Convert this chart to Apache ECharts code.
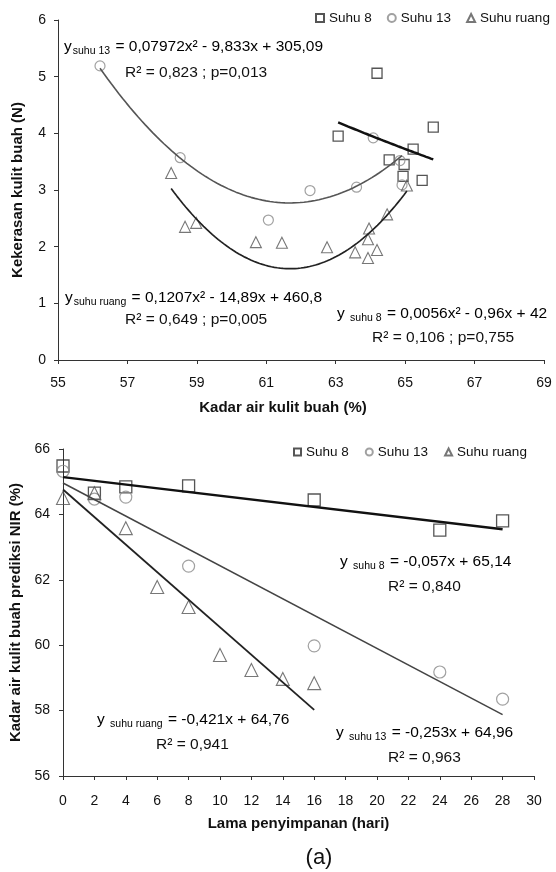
<!DOCTYPE html>
<html><head><meta charset="utf-8">
<script src="https://cdn.jsdelivr.net/npm/echarts@6/dist/echarts.min.js"></script>
<style>html,body{margin:0;padding:0;background:#fff}#c{width:556px;height:872px}</style>
</head><body><div id="c"></div>
<script>
const FONT = '"Liberation Sans", Arial, Helvetica, sans-serif';
const SERIES_NAMES = ['Suhu 8', 'Suhu 13', 'Suhu ruang'];

// ---------- Top chart: Kekerasan vs Kadar air ----------
const topXTicks = [55, 57, 59, 61, 63, 65, 67, 69];
const topYTicks = [0, 1, 2, 3, 4, 5, 6];
const topS8X = [63.07, 64.19, 65.81, 65.23, 64.54, 64.97, 64.94, 65.49];
const topS8Y = [3.95, 5.06, 4.11, 3.72, 3.53, 3.45, 3.24, 3.17];
const topS13X = [56.21, 58.52, 61.06, 62.26, 63.60, 64.08, 64.85, 64.91];
const topS13Y = [5.19, 3.57, 2.47, 2.99, 3.05, 3.92, 3.52, 3.09];
const topRX = [58.26, 58.66, 58.98, 60.70, 61.45, 62.75, 63.56, 63.93, 63.96, 64.19, 63.93, 64.48, 65.05];
const topRY = [3.30, 2.35, 2.42, 2.08, 2.07, 1.99, 1.90, 2.13, 2.32, 1.94, 1.80, 2.57, 3.08];
// printed quadratic terms (a, b); constant re-fitted to the data
const topS8Quad = [0.0056, -0.96];
const topS13Quad = [0.07972, -9.833];
const topRQuad = [0.1207, -14.89];

// ---------- Bottom chart: Kadar air vs Lama penyimpanan ----------
const botXTicks = [0, 2, 4, 6, 8, 10, 12, 14, 16, 18, 20, 22, 24, 26, 28, 30];
const botYTicks = [56, 58, 60, 62, 64, 66];
const botS8X = [0, 2, 4, 8, 16, 24, 28];
const botS8Y = [65.48, 64.65, 64.84, 64.87, 64.44, 63.52, 63.80];
const botS13X = [0, 2, 4, 8, 16, 24, 28];
const botS13Y = [65.32, 64.47, 64.53, 62.42, 59.98, 59.18, 58.35];
const botRX = [0, 2, 4, 6, 8, 10, 12, 14, 16];
const botRY = [64.50, 64.65, 63.58, 61.78, 61.17, 59.70, 59.24, 58.97, 58.84];
// printed linear trend lines (slope, intercept)
const botS8Lin = [-0.057, 65.14];
const botS13Lin = [-0.253, 64.96];
const botRLin = [-0.421, 64.76];

function zip(xs, ys) { return xs.map((x, i) => [x, ys[i]]); }
function quadCurve(xs, ys, q) {
  const [a, b] = q;
  let c = 0;
  xs.forEach((x, i) => { c += ys[i] - a * x * x - b * x; });
  c /= xs.length;
  const lo = Math.min(...xs), hi = Math.max(...xs);
  const pts = [];
  const n = 80;
  for (let k = 0; k <= n; k++) {
    const x = lo + (hi - lo) * k / n;
    pts.push([x, a * x * x + b * x + c]);
  }
  return pts;
}
function linLine(xs, l) {
  const lo = Math.min(...xs), hi = Math.max(...xs);
  return [[lo, l[0] * lo + l[1]], [hi, l[0] * hi + l[1]]];
}

const markerStyles = {
  'Suhu 8': { symbol: 'rect', color: '#2a2a2a', bw: 1.3 },
  'Suhu 13': { symbol: 'circle', color: '#8a8a8a', bw: 1.2 },
  'Suhu ruang': { symbol: 'triangle', color: '#555', bw: 1.1 }
};
function scatter(name, data, gi, size) {
  const m = markerStyles[name];
  return {
    type: 'scatter', name, data, xAxisIndex: gi, yAxisIndex: gi,
    symbol: m.symbol, symbolSize: size, z: 3,
    itemStyle: { color: 'rgba(255,255,255,0)', borderColor: m.color, borderWidth: m.bw },
    emphasis: { disabled: true }, silent: true
  };
}
function trend(name, data, gi, color, width) {
  return {
    type: 'line', name, data, xAxisIndex: gi, yAxisIndex: gi,
    showSymbol: false, smooth: false, z: 4, silent: true,
    lineStyle: { color, width }, emphasis: { disabled: true }
  };
}

const axisCommon = {
  axisLine: { show: true, lineStyle: { color: '#333', width: 1 } },
  axisTick: { show: true, length: 4, lineStyle: { color: '#333' } },
  splitLine: { show: false },
  nameLocation: 'middle',
  nameTextStyle: { fontFamily: FONT, fontSize: 15, fontWeight: 'bold', color: '#111' }
};
const labelStyle = { fontFamily: FONT, fontSize: 14, color: '#111' };

const eqRich = {
  y: { fontFamily: FONT, fontSize: 15.5, color: '#111' },
  s: { fontFamily: FONT, fontSize: 10.5, color: '#111', padding: [8, 1, 0, 1] },
  t: { fontFamily: FONT, fontSize: 15.5, color: '#111' }
};
function eq(x, y, sub, rest, gap) {
  return {
    type: 'text', x, y, silent: true, z: 10,
    style: {
      text: '{y|y' + (gap ? ' ' : '') + '}{s|' + sub + '}{t|' + rest + '}',
      rich: eqRich, align: 'left', verticalAlign: 'middle'
    }
  };
}
function plain(x, y, text, size, align) {
  return {
    type: 'text', x, y, silent: true, z: 10,
    style: { text, fontFamily: FONT, fontSize: size || 15.5, fill: '#111',
      align: align || 'left', verticalAlign: 'middle' }
  };
}

const option = {
  animation: false,
  backgroundColor: '#fff',
  grid: [
    { left: 58, right: 12, top: 20, height: 340 },
    { left: 63, right: 22, top: 449, height: 327 }
  ],
  legend: [
    { data: SERIES_NAMES, left: 310, top: 6, width: 300, itemWidth: 8, itemHeight: 8, itemGap: 15,
      textStyle: { fontFamily: FONT, fontSize: 13.5, color: '#111' }, selectedMode: false },
    { data: SERIES_NAMES, left: 288, top: 440, width: 300, itemWidth: 7, itemHeight: 7, itemGap: 16,
      textStyle: { fontFamily: FONT, fontSize: 13.5, color: '#111' }, selectedMode: false }
  ],
  xAxis: [
    Object.assign({}, axisCommon, {
      gridIndex: 0, type: 'value', min: topXTicks[0], max: topXTicks[topXTicks.length - 1],
      name: 'Kadar air kulit buah (%)', nameGap: 40,
      nameTextStyle: Object.assign({}, axisCommon.nameTextStyle, { padding: [0, 36, 0, 0] }),
      axisTick: { show: true, length: 4, lineStyle: { color: '#333' }, customValues: topXTicks },
      axisLabel: Object.assign({ margin: 16, customValues: topXTicks }, labelStyle)
    }),
    Object.assign({}, axisCommon, {
      gridIndex: 1, type: 'value', min: botXTicks[0], max: botXTicks[botXTicks.length - 1], interval: 2,
      name: 'Lama penyimpanan (hari)', nameGap: 40,
      axisLabel: Object.assign({ margin: 18 }, labelStyle)
    })
  ],
  yAxis: [
    Object.assign({}, axisCommon, {
      gridIndex: 0, type: 'value', min: topYTicks[0], max: topYTicks[topYTicks.length - 1], interval: 1,
      name: 'Kekerasan kulit buah (N)', nameGap: 33,
      axisLabel: Object.assign({ margin: 12 }, labelStyle)
    }),
    Object.assign({}, axisCommon, {
      gridIndex: 1, type: 'value', min: botYTicks[0], max: botYTicks[botYTicks.length - 1], interval: 2,
      name: 'Kadar air kulit buah prediksi NIR (%)', nameGap: 36,
      axisLabel: Object.assign({ margin: 13 }, labelStyle)
    })
  ],
  series: [
    scatter('Suhu 8', zip(topS8X, topS8Y), 0, 10),
    scatter('Suhu 13', zip(topS13X, topS13Y), 0, 10),
    scatter('Suhu ruang', zip(topRX, topRY), 0, 11),
    trend('trend top 8', quadCurve(topS8X, topS8Y, topS8Quad), 0, '#111', 2.5),
    trend('trend top 13', quadCurve(topS13X, topS13Y, topS13Quad), 0, '#555', 1.6),
    trend('trend top r', quadCurve(topRX, topRY, topRQuad), 0, '#222', 1.7),
    scatter('Suhu 8', zip(botS8X, botS8Y), 1, 12),
    scatter('Suhu 13', zip(botS13X, botS13Y), 1, 12),
    scatter('Suhu ruang', zip(botRX, botRY), 1, 13),
    trend('trend bot 8', linLine(botS8X, botS8Lin), 1, '#111', 2.5),
    trend('trend bot 13', linLine(botS13X, botS13Lin), 1, '#444', 1.5),
    trend('trend bot r', linLine(botRX, botRLin), 1, '#222', 1.8)
  ],
  graphic: [
    eq(64, 47, 'suhu 13', ' = 0,07972x² - 9,833x + 305,09', false),
    plain(125, 73, 'R² = 0,823 ; p=0,013'),
    eq(65, 298, 'suhu ruang', ' = 0,1207x² - 14,89x + 460,8', false),
    plain(125, 320, 'R² = 0,649 ; p=0,005'),
    eq(337, 314, 'suhu 8', ' = 0,0056x² - 0,96x + 42', true),
    plain(372, 338, 'R² = 0,106 ; p=0,755'),
    eq(340, 562, 'suhu 8', ' = -0,057x + 65,14', true),
    plain(388, 587, 'R² = 0,840'),
    eq(97, 720, 'suhu ruang', ' = -0,421x + 64,76', true),
    plain(156, 745, 'R² = 0,941'),
    eq(336, 733, 'suhu 13', ' = -0,253x + 64,96', true),
    plain(388, 758, 'R² = 0,963'),
    plain(319, 858, '(a)', 22, 'center')
  ]
};
const chart = echarts.init(document.getElementById('c'), null, { renderer: 'canvas' });
chart.setOption(option);
</script></body></html>
